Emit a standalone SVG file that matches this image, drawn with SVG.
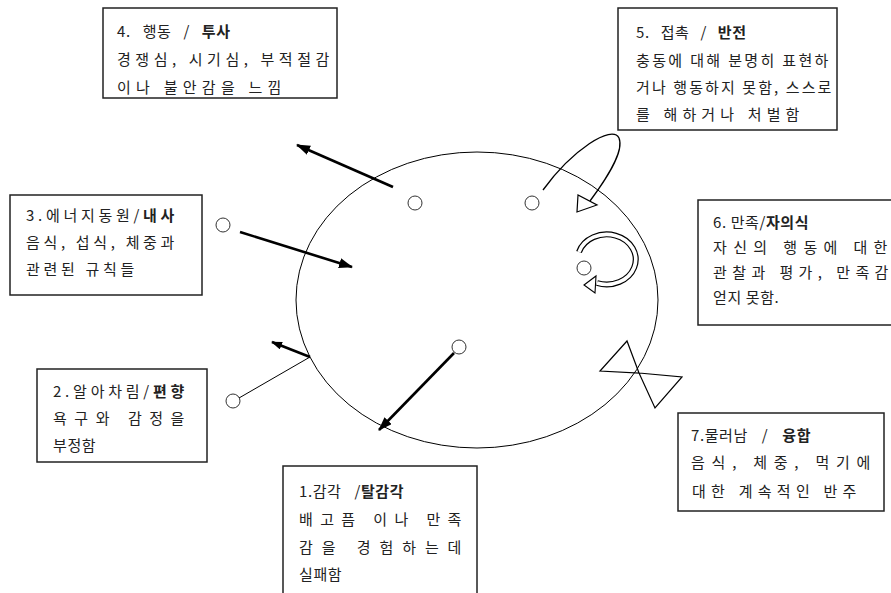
<svg xmlns="http://www.w3.org/2000/svg" width="891" height="593" viewBox="0 0 891 593">
<style>
.box{fill:#fff;stroke:#222;stroke-width:1.5}
.t{font-family:"Noto Sans CJK KR","Noto Sans",sans-serif;font-size:15px;fill:#222;letter-spacing:0.6px}
.b{font-weight:bold}
.thin{fill:none;stroke:#000;stroke-width:1}
.thick{fill:none;stroke:#000;stroke-width:2.6}
.dot{fill:#fff;stroke:#333;stroke-width:1}
</style>
<defs>
<marker id="ah" markerWidth="14" markerHeight="10" refX="13" refY="5" orient="auto" markerUnits="userSpaceOnUse"><path d="M0,0 L14,5 L0,10 Z" fill="#000"/></marker>
<marker id="ahs" markerWidth="11" markerHeight="8" refX="10" refY="4" orient="auto" markerUnits="userSpaceOnUse"><path d="M0,0 L11,4 L0,8 Z" fill="#000"/></marker>
</defs>
<rect width="891" height="593" fill="#fff"/>

<g id="cycle">
<ellipse cx="477" cy="300" rx="181" ry="148" class="thin"/>
</g>

<g id="node4">
<rect x="103" y="8" width="234" height="90" class="box"/>
<text class="t" x="117" y="37" word-spacing="8">4. 행동 / <tspan class="b">투사</tspan></text>
<text class="t" x="117" y="65" textLength="213" lengthAdjust="spacing">경쟁심, 시기심, 부적절감</text>
<text class="t" x="117" y="93" textLength="165" lengthAdjust="spacing">이나 불안감을 느낌</text>
<circle cx="415" cy="203" r="7" class="dot"/>
</g>

<g id="node5">
<rect x="618" y="8" width="219" height="122" class="box"/>
<text class="t" x="636" y="38" word-spacing="7">5. 접촉 / <tspan class="b">반전</tspan></text>
<text class="t" x="636" y="66" textLength="193" lengthAdjust="spacing">충동에 대해 분명히 표현하</text>
<text class="t" x="636" y="93" textLength="196" lengthAdjust="spacing">거나 행동하지 못함, 스스로</text>
<text class="t" x="636" y="120" textLength="164" lengthAdjust="spacing">를 해하거나 처벌함</text>
<circle cx="532" cy="203" r="7" class="dot"/>
</g>

<g id="node3">
<rect x="10" y="195" width="192" height="100" class="box"/>
<text class="t" x="26" y="221" textLength="149" lengthAdjust="spacing">3.에너지동원/<tspan class="b">내사</tspan></text>
<text class="t" x="26" y="248" textLength="149" lengthAdjust="spacing">음식, 섭식, 체중과</text>
<text class="t" x="26" y="275" textLength="109" lengthAdjust="spacing">관련된 규칙들</text>
<circle cx="223" cy="225" r="7" class="dot"/>
</g>

<g id="node6">
<rect x="698" y="200" width="200" height="125" class="box"/>
<text class="t" x="713" y="228">6. 만족/<tspan class="b">자의식</tspan></text>
<text class="t" x="713" y="253" textLength="175" lengthAdjust="spacing">자신의 행동에 대한</text>
<text class="t" x="713" y="278" textLength="176" lengthAdjust="spacing">관찰과 평가, 만족감</text>
<text class="t" x="713" y="303">얻지 못함.</text>
<circle cx="584" cy="268" r="7" class="dot"/>
</g>

<g id="node2">
<rect x="37" y="369" width="170" height="93" class="box"/>
<text class="t" x="53" y="397" textLength="132" lengthAdjust="spacing">2.알아차림/<tspan class="b">편향</tspan></text>
<text class="t" x="53" y="424" textLength="132" lengthAdjust="spacing">욕구와    감정을</text>
<text class="t" x="53" y="451">부정함</text>
<circle cx="233" cy="401" r="7" class="dot"/>
</g>

<g id="node1">
<rect x="283" y="466" width="194" height="135" class="box"/>
<text class="t" x="299" y="497" word-spacing="9">1.감각 /<tspan class="b">탈감각</tspan></text>
<text class="t" x="299" y="525" textLength="163" lengthAdjust="spacing">배고픔 이나 만족</text>
<text class="t" x="299" y="553" textLength="163" lengthAdjust="spacing">감을     경험하는데</text>
<text class="t" x="299" y="580">실패함</text>
<circle cx="459" cy="347" r="7" class="dot"/>
</g>

<g id="node7">
<rect x="678" y="413" width="206" height="98" class="box"/>
<text class="t" x="691" y="441" word-spacing="10">7.물러남 / <tspan class="b">융합</tspan></text>
<text class="t" x="691" y="468" textLength="180" lengthAdjust="spacing">음식,   체중,   먹기에</text>
<text class="t" x="692" y="497" textLength="165" lengthAdjust="spacing">대한 계속적인 반주</text>
<path d="M639,373 L627,341 L600,371 Z M639,373 L682,377 L655,408 Z" fill="none" stroke="#000" stroke-width="1.2"/>
</g>

<g id="connectors">
<line x1="393" y1="187" x2="297" y2="145" class="thick" marker-end="url(#ah)"/>
<line x1="240" y1="232" x2="352" y2="267" class="thick" marker-end="url(#ah)"/>
<line x1="454" y1="353" x2="379" y2="430" class="thick" marker-end="url(#ah)"/>
<line x1="239" y1="398" x2="310" y2="357" class="thin"/>
<line x1="310" y1="357" x2="272" y2="342" class="thick" stroke-width="2.4" marker-end="url(#ahs)"/>
<path d="M543,190 C572,150 612,124 619,138 C625,152 604,182 590,201" fill="none" stroke="#000" stroke-width="1.3"/>
<path d="M578,195 L577,212 L597,205 Z" fill="#fff" stroke="#000" stroke-width="1.2"/>
<path d="M579,252 A29,25 0 1 1 597,283" fill="none" stroke="#000" stroke-width="6"/>
<path d="M579,252 A29,25 0 1 1 597,283" fill="none" stroke="#fff" stroke-width="3.6"/>
<path d="M584,285 L596,276 L595,293 Z" fill="#fff" stroke="#000" stroke-width="1.1"/>
</g>
</svg>
